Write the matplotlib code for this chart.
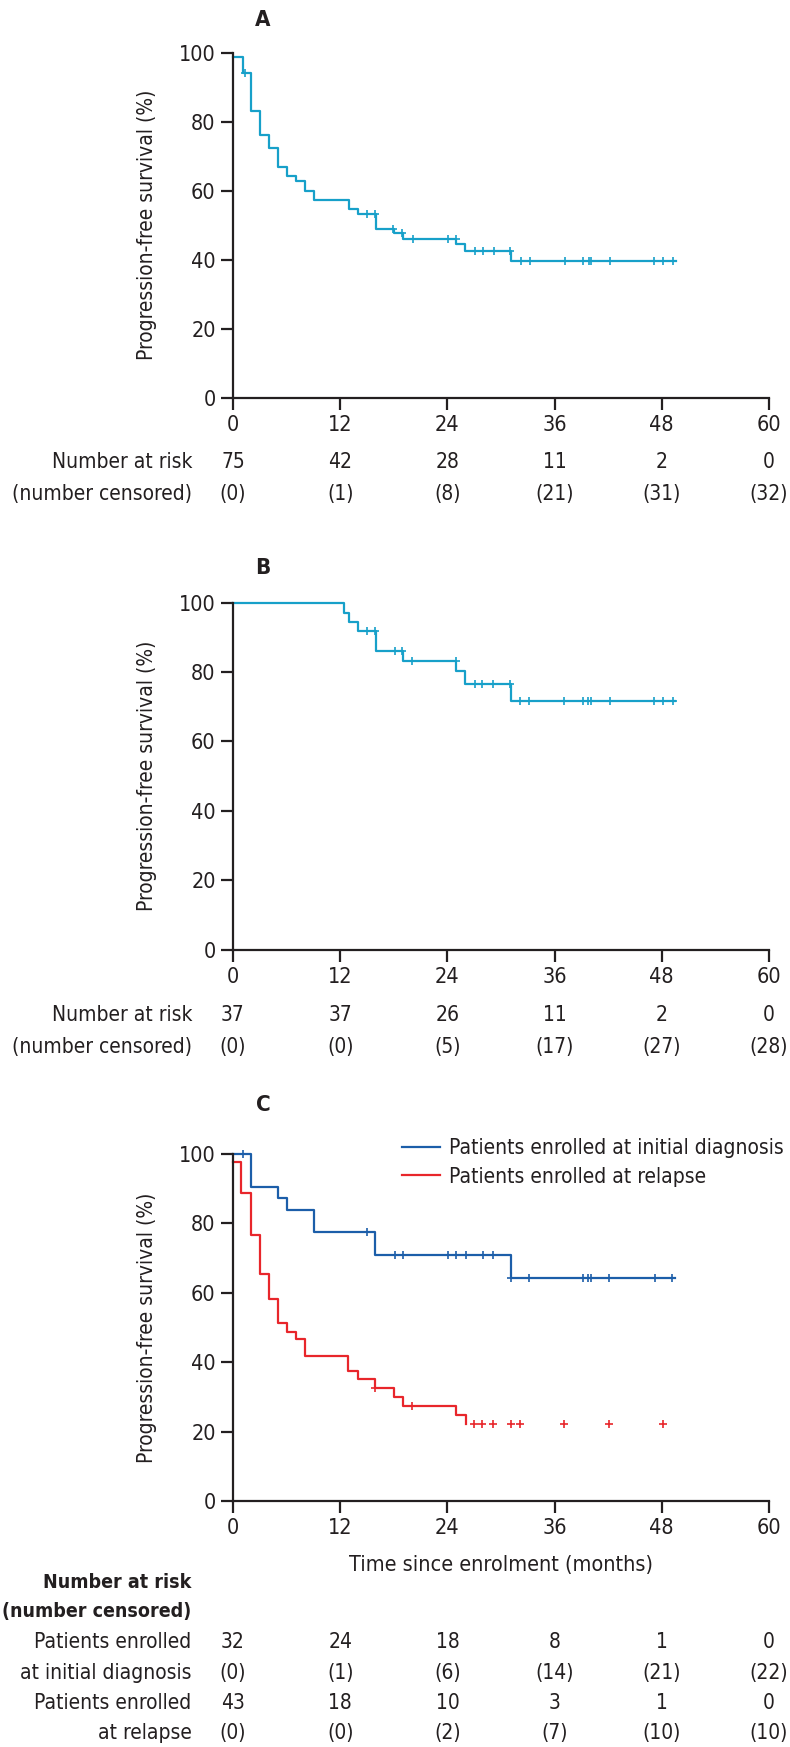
import numpy as np
import matplotlib
matplotlib.use("Agg")
import matplotlib.pyplot as plt
from matplotlib.transforms import blended_transform_factory

plt.rcParams['font.family'] = ['DejaVu Sans']
plt.rcParams['font.stretch'] = 'condensed'

# ---------------- data ----------------
ticks = [0, 12, 24, 36, 48, 60]

# Panel A (all patients)
a_times = [0, 1.1, 2.0, 3.0, 4.0, 5.0, 6.1, 7.1, 8.1, 9.1, 13.0, 14.0, 16.0, 18.0, 19.0, 25.0, 26.0, 31.1, 49.6]
a_surv = [98.8, 94.1, 83.2, 76.2, 72.3, 66.9, 64.2, 62.7, 60.0, 57.2, 54.6, 53.3, 49.0, 47.6, 46.0, 44.5, 42.5, 39.7, 39.7]
a_cens = [1.3, 15.0, 15.95, 17.95, 18.95, 20.1, 24.1, 24.95, 27.1, 28.0, 29.2, 31.05, 32.2, 33.2, 37.2, 39.2, 39.8,
          40.1, 42.2, 47.1, 48.1, 49.2]
a_risk = [75, 42, 28, 11, 2, 0]
a_censn = [0, 1, 8, 21, 31, 32]

# Panel B
b_times = [0, 12.4, 13.0, 14.0, 16.0, 19.0, 25.0, 26.0, 31.1, 49.5]
b_surv = [100, 97.2, 94.6, 91.8, 86.2, 83.3, 80.3, 76.6, 71.7, 71.7]
b_cens = [15.0, 15.95, 18.1, 18.95, 20.0, 24.95, 27.1, 27.9, 29.1, 31.0, 32.1, 33.1, 37.1, 39.2, 39.7, 40.1,
          42.2, 47.1, 48.1, 49.2]
b_risk = [37, 37, 26, 11, 2, 0]
b_censn = [0, 0, 5, 17, 27, 28]

# Panel C
c1_label = "Patients enrolled at initial diagnosis"
c1_times = [0, 2.0, 5.0, 6.0, 9.1, 15.9, 31.1, 49.5]
c1_surv = [100, 90.4, 87.2, 83.9, 77.6, 70.8, 64.4, 64.4]
c1_cens = [1.15, 15.05, 18.1, 19.0, 24.1, 25.0, 26.1, 28.0, 29.1, 31.1, 33.1, 39.2, 39.7, 40.1, 42.1, 47.2, 49.1]
c1_risk = [32, 24, 18, 8, 1, 0]
c1_censn = [0, 1, 6, 14, 21, 22]

c2_label = "Patients enrolled at relapse"
c2_times = [0, 0.9, 2.0, 3.0, 4.0, 5.0, 6.0, 7.0, 8.1, 12.9, 14.0, 15.9, 18.0, 19.0, 25.0, 26.1]
c2_surv = [97.8, 88.7, 76.8, 65.3, 58.1, 51.2, 48.8, 46.6, 41.8, 37.5, 35.1, 32.6, 30.1, 27.5, 24.8, 22.1]
c2_cens = [15.9, 20.07, 27.0, 27.9, 29.1, 31.1, 32.1, 37.1, 42.1, 48.1]
c2_risk = [43, 18, 10, 3, 1, 0]
c2_censn = [0, 0, 2, 7, 10, 10]

# ---------------- style ----------------
CYAN = '#17a0c9'
BLUE = '#1c5ea9'
RED = '#e8262b'
TXT = '#231f20'
W, H = 790, 1747
FS = 15

fig = plt.figure(figsize=(W / 100, H / 100), dpi=100)


def add_ax(top_px, bottom_px):
    return fig.add_axes([233 / W, 1 - bottom_px / H, (769 - 233) / W, (bottom_px - top_px) / H])


def style(ax):
    ax.set_xlim(0, 60)
    ax.set_ylim(0, 100)
    for s in ['top', 'right']:
        ax.spines[s].set_visible(False)
    for s in ['left', 'bottom']:
        ax.spines[s].set_linewidth(1.6)
        ax.spines[s].set_color(TXT)
    ax.set_xticks(ticks)
    ax.set_yticks([0, 20, 40, 60, 80, 100])
    ax.tick_params(direction='out', length=8.5, width=1.6, color=TXT, labelsize=15.5, labelcolor=TXT, pad=4)
    ax.set_ylabel("Progression-free survival (%)", fontsize=FS, color=TXT)
    ax.yaxis.set_label_coords(-0.142, 0.5)


def km(ax, times, surv, cens, color, label=None):
    ax.step(times, surv, where='post', color=color, lw=1.6, clip_on=False, label=label)
    t = np.asarray(times)
    s = np.asarray(surv)
    idx = np.searchsorted(t, np.asarray(cens), side='right') - 1
    ax.plot(cens, s[idx], ls='none', marker='+', ms=6, mew=1.2, color=color, clip_on=False)


def table(ax, rows, labels, ypx, xlab_px, bold_rows=()):
    tr = blended_transform_factory(ax.transData, fig.transFigure)
    for i, (lab, y) in enumerate(zip(labels, ypx)):
        bold = i in bold_rows
        fig.text(xlab_px / W, 1 - y / H, lab, ha='right', va='center', fontsize=14 if bold else FS,
                 color=TXT, fontweight='bold' if bold else 'normal')
    for vals, y in rows:
        for x, v in zip(ticks, vals):
            ax.text(x, 1 - y / H, v, transform=tr, ha='center', va='center', fontsize=FS, color=TXT,
                    clip_on=False)


# Panel A
axA = add_ax(52.7, 397.7)
style(axA)
km(axA, a_times, a_surv, a_cens, CYAN)
fig.text(263 / W, 1 - 20 / H, "A", fontsize=16, fontweight='bold', ha='center', va='center', color=TXT)
table(axA, [([str(v) for v in a_risk], 462), ([f"({v})" for v in a_censn], 494)],
      ["Number at risk", "(number censored)"], [462, 494], 192)

# Panel B
axB = add_ax(602.8, 949.5)
style(axB)
km(axB, b_times, b_surv, b_cens, CYAN)
fig.text(263 / W, 1 - 568 / H, "B", fontsize=16, fontweight='bold', ha='center', va='center', color=TXT)
table(axB, [([str(v) for v in b_risk], 1015), ([f"({v})" for v in b_censn], 1047)],
      ["Number at risk", "(number censored)"], [1015, 1047], 192)

# Panel C
axC = add_ax(1154, 1501)
style(axC)
km(axC, c1_times, c1_surv, c1_cens, BLUE, label=c1_label)
km(axC, c2_times, c2_surv, c2_cens, RED, label=c2_label)
axC.set_xlabel("Time since enrolment (months)", fontsize=15.5, color=TXT, labelpad=12)
fig.text(263 / W, 1 - 1105 / H, "C", fontsize=16, fontweight='bold', ha='center', va='center', color=TXT)
leg = axC.legend(loc='upper left', bbox_to_anchor=(0.315, 1.045), frameon=False, fontsize=FS,
                 handlelength=1.85, handletextpad=0.4, labelspacing=0.4, borderpad=0, borderaxespad=0)
for txt in leg.get_texts():
    txt.set_color(TXT)
table(axC,
      [([str(v) for v in c1_risk], 1642), ([f"({v})" for v in c1_censn], 1673),
       ([str(v) for v in c2_risk], 1703), ([f"({v})" for v in c2_censn], 1733)],
      ["Number at risk", "(number censored)", "Patients enrolled", "at initial diagnosis",
       "Patients enrolled", "at relapse"],
      [1582, 1612, 1642, 1673, 1703, 1733], 191.5, bold_rows=(0, 1))

fig.savefig("out.png", dpi=100)
